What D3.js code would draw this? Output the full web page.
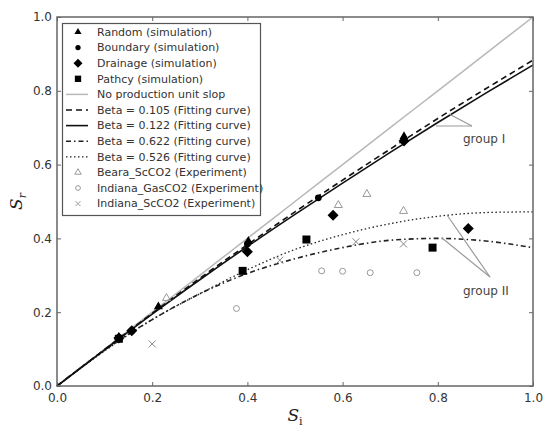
<!DOCTYPE html>
<html>
<head>
<meta charset="utf-8">
<script src="https://cdn.jsdelivr.net/npm/d3@7"></script>
<style>
  html, body { margin: 0; padding: 0; background: #fff; }
  svg { display: block; }
</style>
</head>
<body>
<div id="chart"></div>
<script>
// ── Data ──
const xTicks = [0.0, 0.2, 0.4, 0.6, 0.8, 1.0];
const yTicks = [0.0, 0.2, 0.4, 0.6, 0.8, 1.0];

// simulation points [Si, Sr]
const randomPts   = [[0.130, 0.132], [0.213, 0.215], [0.402, 0.392], [0.729, 0.676]];
const boundaryPts = [[0.157, 0.150], [0.400, 0.385], [0.549, 0.510], [0.729, 0.670]];
const drainagePts = [[0.130, 0.130], [0.157, 0.150], [0.400, 0.364], [0.580, 0.463], [0.729, 0.664], [0.864, 0.427]];
const pathcyPts   = [[0.130, 0.128], [0.390, 0.312], [0.524, 0.397], [0.789, 0.375]];

// experiment points
const bearaPts     = [[0.230, 0.238], [0.591, 0.490], [0.651, 0.520], [0.728, 0.474]];
const gasCO2Pts    = [[0.377, 0.210], [0.556, 0.312], [0.600, 0.311], [0.658, 0.307], [0.756, 0.307]];
const scCO2Pts     = [[0.200, 0.114], [0.468, 0.341], [0.628, 0.391], [0.728, 0.385]];

// fitting curves
const curveX    = [0, 0.1, 0.2, 0.3, 0.4, 0.5, 0.6, 0.7, 0.8, 0.9, 1.0];
const unitSlop  = [0, 0.1, 0.2, 0.3, 0.4, 0.5, 0.6, 0.7, 0.8, 0.9, 1.0];
const beta105   = [0, 0.099, 0.197, 0.292, 0.383, 0.472, 0.558, 0.642, 0.725, 0.805, 0.883];
const beta122   = [0, 0.098, 0.195, 0.288, 0.378, 0.465, 0.550, 0.633, 0.714, 0.793, 0.870];
const beta622   = [0, 0.097, 0.180, 0.250, 0.305, 0.345, 0.375, 0.395, 0.400, 0.393, 0.375];
const beta526   = [0, 0.095, 0.180, 0.250, 0.315, 0.370, 0.410, 0.440, 0.460, 0.470, 0.472];

const legendLabels = [
  'Random (simulation)',
  'Boundary (simulation)',
  'Drainage (simulation)',
  'Pathcy (simulation)',
  'No production unit slop',
  'Beta = 0.105 (Fitting curve)',
  'Beta = 0.122 (Fitting curve)',
  'Beta = 0.622 (Fitting curve)',
  'Beta = 0.526 (Fitting curve)',
  'Beara_ScCO2 (Experiment)',
  'Indiana_GasCO2 (Experiment)',
  'Indiana_ScCO2 (Experiment)'
];

const W = 544, H = 429;
const margin = { left: 57, right: 11, top: 17, bottom: 43 };

const svg = d3.select('#chart').append('svg')
  .attr('width', W).attr('height', H);

const x = d3.scaleLinear().domain([0, 1]).range([margin.left, W - margin.right]);
const y = d3.scaleLinear().domain([0, 1]).range([H - margin.bottom, margin.top]);

const FONT = 'DejaVu Sans, sans-serif';
const AXIS_COL = '#666';

// ── Axes (ticks inward on all four sides) ──
svg.append('g')
  .attr('transform', `translate(0,${y(0)})`)
  .call(d3.axisBottom(x).tickValues(xTicks).tickFormat(d3.format('.1f')).tickSize(-4).tickPadding(7))
  .call(g => g.select('.domain').remove());
svg.append('g')
  .attr('transform', `translate(0,${y(1)})`)
  .call(d3.axisTop(x).tickValues(xTicks).tickFormat('').tickSize(-4))
  .call(g => g.select('.domain').remove());
svg.append('g')
  .attr('transform', `translate(${x(0)},0)`)
  .call(d3.axisLeft(y).tickValues(yTicks).tickFormat(d3.format('.1f')).tickSize(-4).tickPadding(5))
  .call(g => g.select('.domain').remove());
svg.append('g')
  .attr('transform', `translate(${x(1)},0)`)
  .call(d3.axisRight(y).tickValues(yTicks).tickFormat('').tickSize(-4))
  .call(g => g.select('.domain').remove());

svg.selectAll('.tick line').attr('stroke', AXIS_COL).attr('stroke-width', 1);
svg.selectAll('.tick text').attr('fill', '#333').attr('font-family', FONT).attr('font-size', 12);

// ── Lines ──
const line = d3.line()
  .x((d, i) => x(curveX[i]))
  .y(d => y(d))
  .curve(d3.curveMonotoneX);

const plot = svg.append('g');

const lineSeries = [
  { data: unitSlop, stroke: '#b8b8b8', width: 1.5, dash: null },
  { data: beta526, stroke: '#222', width: 1.3, dash: '1.5,2.5' },
  { data: beta622, stroke: '#222', width: 1.6, dash: '5,3,1.5,3' },
  { data: beta105, stroke: '#111', width: 1.6, dash: '6,4' },
  { data: beta122, stroke: '#111', width: 1.6, dash: null }
];

lineSeries.forEach(s => {
  plot.append('path')
    .attr('d', line(s.data))
    .attr('fill', 'none')
    .attr('stroke', s.stroke)
    .attr('stroke-width', s.width)
    .attr('stroke-dasharray', s.dash);
});

// ── Marker shapes ──
const sym = (type, size) => d3.symbol().type(type).size(size)();
const xMark = r => `M${-r},${-r}L${r},${r}M${-r},${r}L${r},${-r}`;
const diamond = r => `M0,${-r}L${r},0L0,${r}L${-r},0Z`;

const markerSeries = [
  { data: gasCO2Pts, path: sym(d3.symbolCircle, 28), fill: 'none', stroke: '#999' },
  { data: bearaPts, path: sym(d3.symbolTriangle, 28), fill: 'none', stroke: '#999' },
  { data: scCO2Pts, path: xMark(3.5), fill: 'none', stroke: '#888' },
  { data: pathcyPts, path: sym(d3.symbolSquare, 64), fill: '#000', stroke: 'none' },
  { data: drainagePts, path: diamond(5.5), fill: '#000', stroke: 'none' },
  { data: boundaryPts, path: sym(d3.symbolCircle, 36), fill: '#000', stroke: 'none' },
  { data: randomPts, path: sym(d3.symbolTriangle, 36), fill: '#000', stroke: 'none' }
];

markerSeries.forEach(s => {
  plot.append('g').selectAll('path')
    .data(s.data)
    .join('path')
    .attr('transform', d => `translate(${x(d[0])},${y(d[1])})`)
    .attr('d', s.path)
    .attr('fill', s.fill)
    .attr('stroke', s.stroke)
    .attr('stroke-width', 1);
});

// ── Frame ──
svg.append('rect')
  .attr('x', x(0)).attr('y', y(1))
  .attr('width', x(1) - x(0)).attr('height', y(0) - y(1))
  .attr('fill', 'none').attr('stroke', AXIS_COL).attr('stroke-width', 1.5);

// ── Group annotations ──
const ann = svg.append('g').attr('stroke', '#999').attr('stroke-width', 1.2);
ann.append('line').attr('x1', 472).attr('y1', 126).attr('x2', 449).attr('y2', 114);
ann.append('line').attr('x1', 472).attr('y1', 126).attr('x2', 436).attr('y2', 126);
ann.append('line').attr('x1', 490).attr('y1', 277).attr('x2', 447).attr('y2', 215);
ann.append('line').attr('x1', 490).attr('y1', 277).attr('x2', 442).attr('y2', 238);

svg.append('text').attr('x', 463).attr('y', 143)
  .attr('font-family', FONT).attr('font-size', 12).attr('fill', '#444').text('group I');
svg.append('text').attr('x', 463).attr('y', 295)
  .attr('font-family', FONT).attr('font-size', 12).attr('fill', '#444').text('group II');

// ── Legend ──
const legend = svg.append('g');
legend.append('rect')
  .attr('x', 62.5).attr('y', 23.5).attr('width', 198).attr('height', 192)
  .attr('fill', '#fff').attr('stroke', '#555').attr('stroke-width', 1.2);

const rowY = i => 32 + i * 15.6;
const mx = 78, lx0 = 66, lx1 = 88;

const legendMarks = [
  { path: sym(d3.symbolTriangle, 22), fill: '#000', stroke: 'none' },
  { path: sym(d3.symbolCircle, 22), fill: '#000', stroke: 'none' },
  { path: diamond(4.5), fill: '#000', stroke: 'none' },
  { path: sym(d3.symbolSquare, 40), fill: '#000', stroke: 'none' },
  { line: true, stroke: '#b8b8b8', width: 1.5, dash: null },
  { line: true, stroke: '#111', width: 1.6, dash: '6,4' },
  { line: true, stroke: '#111', width: 1.6, dash: null },
  { line: true, stroke: '#222', width: 1.6, dash: '5,3,1.5,3' },
  { line: true, stroke: '#222', width: 1.3, dash: '1.5,2.5' },
  { path: sym(d3.symbolTriangle, 18), fill: 'none', stroke: '#999' },
  { path: sym(d3.symbolCircle, 18), fill: 'none', stroke: '#999' },
  { path: xMark(2.5), fill: 'none', stroke: '#999' }
];

legendLabels.forEach((label, i) => {
  const m = legendMarks[i];
  const yy = rowY(i);
  if (m.line) {
    legend.append('line')
      .attr('x1', lx0).attr('x2', lx1).attr('y1', yy).attr('y2', yy)
      .attr('stroke', m.stroke).attr('stroke-width', m.width)
      .attr('stroke-dasharray', m.dash);
  } else {
    legend.append('path')
      .attr('transform', `translate(${mx},${yy})`)
      .attr('d', m.path)
      .attr('fill', m.fill).attr('stroke', m.stroke).attr('stroke-width', 1);
  }
  legend.append('text')
    .attr('x', 97).attr('y', yy).attr('dy', '0.35em')
    .attr('font-family', FONT).attr('font-size', 11).attr('fill', '#333')
    .text(label);
});

// ── Axis titles ──
svg.append('text')
  .attr('transform', `translate(22,${(y(0) + y(1)) / 2}) rotate(-90)`)
  .attr('text-anchor', 'middle')
  .attr('font-family', 'DejaVu Serif, serif').attr('font-style', 'italic')
  .attr('font-size', 17).attr('fill', '#222')
  .html('S<tspan font-size="11" dy="4">r</tspan>');

svg.append('text')
  .attr('x', (x(0) + x(1)) / 2).attr('y', 421)
  .attr('text-anchor', 'middle')
  .attr('font-family', 'DejaVu Serif, serif').attr('font-style', 'italic')
  .attr('font-size', 17).attr('fill', '#222')
  .html('S<tspan font-size="11" dy="4" font-style="normal">i</tspan>');
</script>
</body>
</html>
